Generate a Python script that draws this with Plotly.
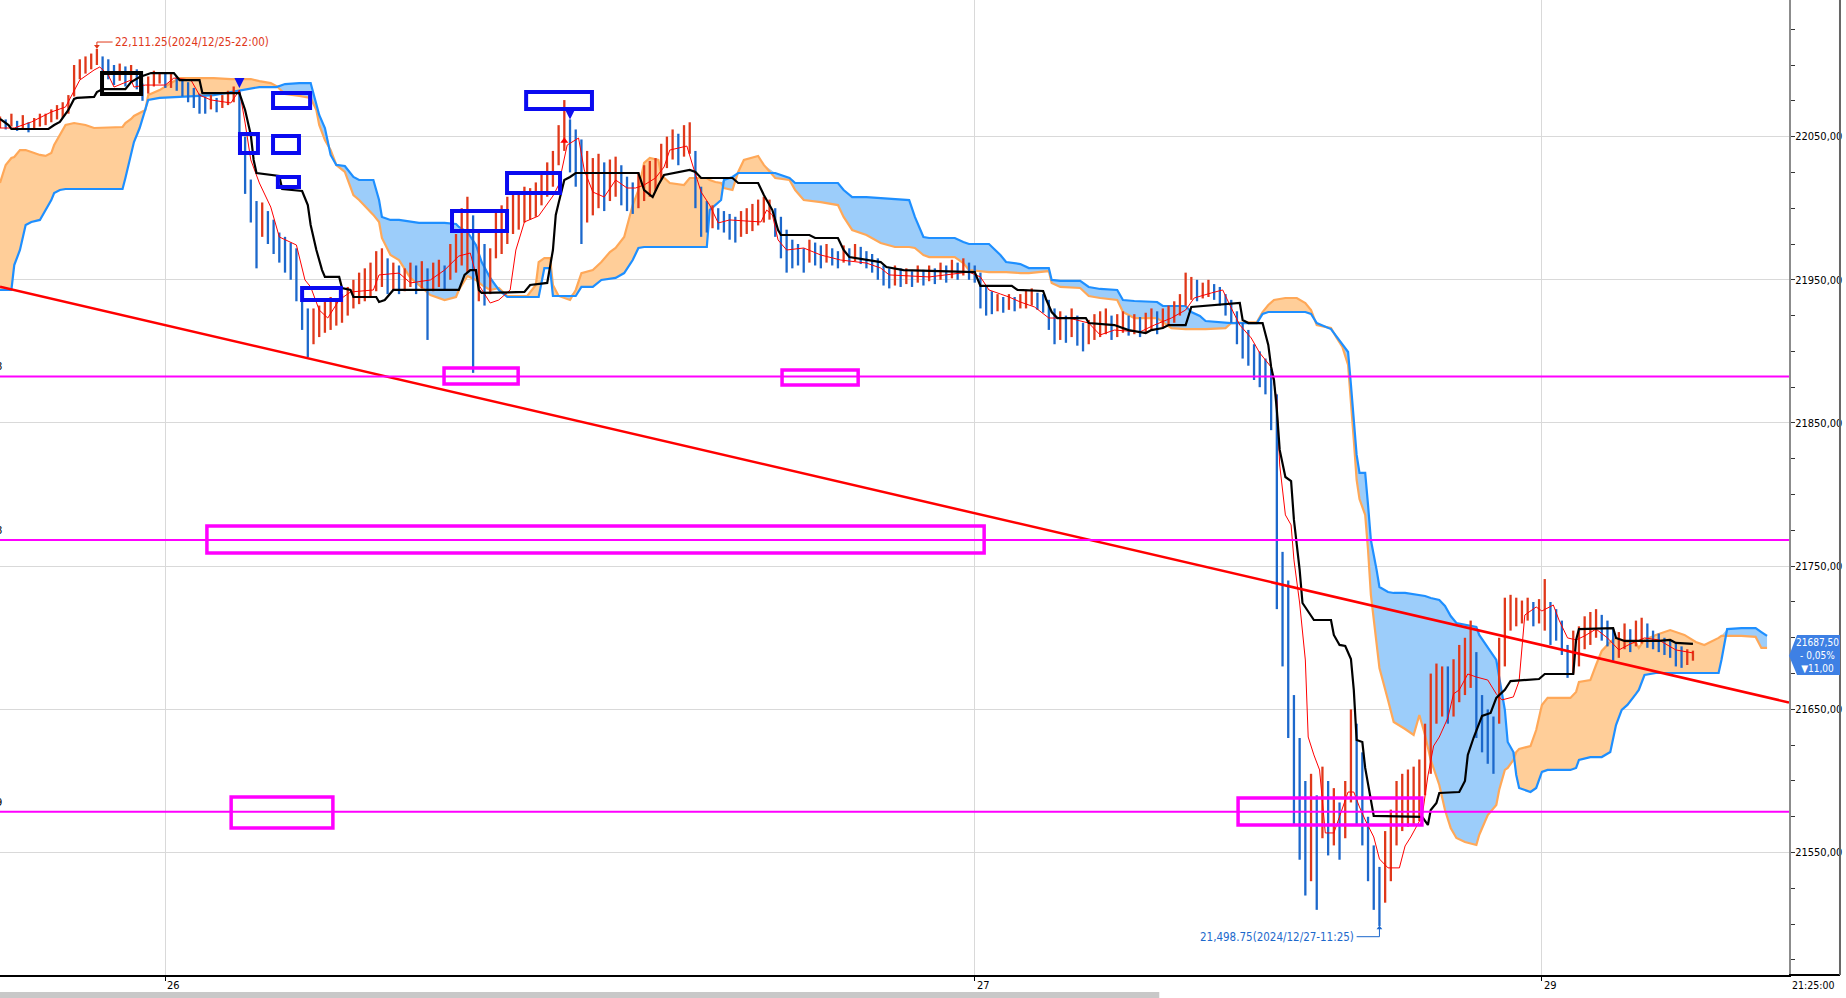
import numpy as np
import plotly.graph_objects as go

FONT = "DejaVu Sans Condensed, Liberation Sans Narrow, Arial Narrow, sans-serif"

# ---------------- axes (time in 5-minute slots, price) ----------------
day_tick_slots = [58, 342, 541]
day_tick_labels = ["26", "27", "29"]
x_end_slot = 627.7
y_min, y_max = 21464.5, 22145.4

# ---------------- price bars (10-minute bars, every 2 slots) ----------------
bar_low = [
    22056, 22055, 22057, 22054, 22056, 22053, 22055, 22057, 22058, 22060,
    22062, 22063, 22066, 22078, 22090, 22094, 22097, 22100, 22093, 22090,
    22086, 22089, 22085, 22088, 22083, 22075, 22080, 22085, 22087, 22084,
    22084, 22082, 22078, 22074, 22070, 22066, 22066, 22069, 22067, 22070,
    22072, 22074, 22045, 22010, 21990, 21958, 21980, 21975, 21968, 21962,
    21955, 21950, 21935, 21915, 21896, 21905, 21910, 21913, 21915, 21918,
    21920, 21925, 21930, 21933, 21935, 21938, 21942, 21945, 21940, 21943,
    21940, 21942, 21945, 21940, 21944, 21908, 21942, 21945, 21943, 21950,
    21955, 21960, 21955, 21885, 21935, 21932, 21940, 21965, 21968, 21975,
    21982, 21985, 21990, 21992, 21994, 22002, 22008, 22015, 22030, 22040,
    22025, 22015, 21975, 21990, 21995, 22000, 21998, 22005, 22008, 22002,
    21998, 21996, 22000, 22005, 22008, 22012, 22020, 22028, 22034, 22030,
    22036, 22038, 22000, 21980, 21983, 21986, 21985, 21983, 21978, 21976,
    21980, 21982, 21984, 21988, 21990, 21992, 21980, 21965, 21955, 21958,
    21960, 21955, 21962, 21960, 21958, 21962, 21960, 21958, 21962, 21960,
    21963, 21961, 21958, 21955, 21950, 21946, 21944, 21946, 21945, 21947,
    21945, 21948, 21946, 21949, 21947, 21950, 21948, 21951, 21950, 21953,
    21950, 21948, 21930, 21925, 21926, 21928, 21927, 21929, 21928, 21930,
    21930, 21932, 21929, 21927, 21915, 21905, 21908, 21906, 21910, 21904,
    21900, 21905, 21908, 21910, 21912, 21908, 21910, 21913, 21911, 21912,
    21910, 21913, 21915, 21912, 21916, 21918, 21920, 21925, 21932, 21936,
    21935, 21937, 21938, 21936, 21932, 21925, 21920, 21905, 21895, 21890,
    21880, 21875, 21870, 21845, 21720, 21680, 21630, 21570, 21545, 21520,
    21530, 21510, 21560, 21548, 21555, 21545, 21560, 21585, 21570, 21555,
    21530, 21510, 21498.75, 21515, 21530, 21555, 21565, 21568, 21570, 21572,
    21590, 21605, 21640, 21645, 21640, 21645, 21655, 21660, 21665, 21630,
    21620, 21612, 21605, 21640, 21680, 21705, 21708, 21710, 21712, 21708,
    21710, 21705, 21695, 21698, 21688, 21672, 21675, 21680, 21692, 21695,
    21700, 21698, 21694, 21684, 21686, 21692, 21690, 21694, 21696, 21693,
    21692, 21690, 21688, 21686, 21680, 21679, 21681, 21684,
]
bar_high = [
    22064, 22062, 22066, 22061, 22065, 22060, 22063, 22066, 22066, 22069,
    22072, 22074, 22079, 22100, 22104, 22106, 22108, 22111.25, 22106, 22104,
    22100, 22101, 22099, 22100, 22097, 22087, 22092, 22096, 22095, 22094,
    22094, 22092, 22090, 22088, 22084, 22080, 22078, 22079, 22077, 22079,
    22082, 22085, 22082, 22050, 22020, 22005, 22004, 21998, 21992, 21983,
    21980, 21976, 21972, 21940, 21930, 21930, 21932, 21935, 21938, 21937,
    21940, 21945, 21950, 21955, 21958, 21962, 21970, 21972, 21965, 21962,
    21960, 21958, 21962, 21960, 21963, 21958, 21962, 21964, 21960, 21975,
    21982, 22000, 22008, 21995, 21985, 21975, 21972, 21998, 22002, 22008,
    22010, 22012, 22015, 22014, 22018, 22025, 22032, 22040, 22058, 22075.5,
    22062, 22055, 22048, 22040, 22035, 22038, 22032, 22034, 22036, 22030,
    22022, 22018, 22025, 22030, 22033, 22035, 22045, 22050, 22055, 22052,
    22058, 22060, 22040, 22015, 22005, 22002, 22000, 21998, 21996, 21994,
    21998, 22000, 22003, 22006, 22008, 22006, 22000, 21994, 21985, 21978,
    21975, 21972, 21978, 21976, 21974, 21975, 21972, 21970, 21974, 21972,
    21975, 21973, 21970, 21968, 21965, 21960, 21958, 21960, 21958, 21958,
    21956, 21960, 21957, 21960, 21958, 21962, 21960, 21964, 21962, 21965,
    21962, 21960, 21955, 21945, 21942, 21940, 21938, 21940, 21938, 21940,
    21943, 21944, 21941, 21940, 21936, 21930, 21928, 21925, 21930, 21925,
    21920, 21922, 21926, 21928, 21930, 21925, 21926, 21928, 21925, 21926,
    21924, 21927, 21930, 21928, 21930, 21932, 21935, 21940, 21955, 21952,
    21950, 21948, 21950, 21947, 21945, 21940, 21936, 21928, 21920, 21915,
    21905, 21900, 21895, 21888, 21870, 21760, 21740, 21660, 21630, 21600,
    21605, 21590, 21610, 21600, 21595, 21585, 21600, 21650, 21640, 21620,
    21575, 21555, 21540, 21565, 21580, 21600, 21605, 21608, 21610, 21615,
    21640, 21675, 21682, 21680, 21680, 21685, 21695, 21700, 21712, 21690,
    21660, 21650, 21645, 21700, 21728, 21730, 21728, 21726, 21728, 21725,
    21727, 21741, 21725, 21720, 21712, 21695, 21705, 21708, 21715, 21718,
    21720, 21716, 21712, 21706, 21704, 21710, 21706, 21712, 21714, 21710,
    21705, 21703, 21700, 21698, 21696, 21694, 21692, 21691,
]
assert len(bar_low) == len(bar_high)
bar_slots = [2 * k for k in range(len(bar_low))]

# ---------------- Ichimoku lines ----------------
tenkan_slots = [0, 5, 11, 18, 23, 26, 28, 33, 35, 38, 40, 46, 47, 51, 58, 61, 67, 70, 74, 81,
                84, 86, 88, 91, 95, 98, 104, 107, 109, 112, 115, 119, 123, 131, 133, 140, 144, 151, 156, 161,
                165, 168, 172, 175, 179, 181, 184, 189, 194, 196, 199, 203, 205, 208, 212, 216, 220, 223, 226, 230,
                233, 235, 241, 243, 246, 249, 252, 256, 267, 269, 271, 273, 276, 282, 288, 295, 304, 309, 312, 326,
                332, 340, 344, 347, 351, 354, 358, 363, 368, 375, 382, 386, 391, 400, 405, 411, 416, 419, 425, 429,
                432, 435, 439, 442, 446, 448, 449, 451, 453, 454, 456, 458, 459, 461, 463, 465, 468, 470, 473, 475,
                477, 479, 482, 484, 487, 491, 493, 495, 499, 501, 503, 505, 508, 510, 512, 515, 518, 522, 525, 527,
                531, 533, 535, 539, 541, 545, 547, 550, 553, 556, 560, 564, 568, 572, 577, 582, 588, 594]
tenkan_vals = [22056.0, 22056.0, 22060.2, 22067.2, 22070.7, 22082.5, 22089.5, 22096.5, 22098.6, 22093.0,
               22084.6, 22089.5, 22084.6, 22086.0, 22086.0, 22090.9, 22089.5, 22079.0, 22075.6, 22073.5,
               22082.5, 22059.5, 22033.7, 22017.6, 22000.8, 21979.9, 21974.3, 21949.9, 21945.0, 21928.9,
               21923.3, 21935.9, 21941.5, 21942.9, 21953.4, 21954.7, 21947.8, 21949.9, 21956.8, 21966.6,
               21968.7, 21946.4, 21933.8, 21935.9, 21942.9, 21970.8, 21990.4, 21994.6, 22008.5, 22016.2,
               22044.1, 22049.0, 22026.7, 22011.3, 22007.8, 22019.7, 22014.1, 22014.1, 22016.2, 22021.1,
               22028.8, 22040.6, 22043.4, 22030.2, 22011.3, 22002.2, 21989.7, 21991.8, 21990.4, 21998.7,
               21995.3, 21977.8, 21970.8, 21972.2, 21967.3, 21963.8, 21961.7, 21958.2, 21953.4, 21952.0,
               21953.4, 21955.4, 21952.0, 21942.9, 21940.1, 21938.0, 21934.5, 21931.0, 21923.3, 21923.3,
               21919.8, 21911.5, 21914.9, 21913.6, 21918.4, 21923.3, 21928.9, 21937.3, 21940.8, 21942.9,
               21930.3, 21918.4, 21909.4, 21898.9, 21889.1, 21866.1, 21820.7, 21785.8, 21778.8, 21754.4,
               21724.3, 21684.5, 21630.7, 21618.2, 21607.7, 21563.7, 21563.7, 21575.5, 21592.3, 21592.3,
               21581.8, 21572.8, 21560.9, 21545.5, 21539.3, 21539.3, 21554.6, 21560.9, 21575.5, 21603.5,
               21624.4, 21630.7, 21644.0, 21660.8, 21663.6, 21674.7, 21672.6, 21670.5, 21660.8, 21656.6,
               21658.7, 21669.8, 21715.9, 21721.5, 21718.7, 21722.9, 21712.4, 21699.9, 21698.5, 21701.3,
               21706.1, 21699.9, 21691.5, 21695.7, 21699.9, 21698.5, 21691.5, 21689.4]

kijun_slots = [0, 3, 4, 17, 19, 21, 24, 26, 27, 33, 34, 36, 44, 46, 49, 53, 61, 63, 70, 71,
               84, 86, 88, 89, 90, 98, 99, 106, 108, 109, 111, 113, 114, 119, 120, 123, 124, 132, 133, 135,
               138, 161, 163, 165, 167, 168, 169, 184, 186, 192, 194, 195, 196, 198, 200, 202, 224, 226, 229, 231,
               233, 242, 244, 246, 257, 259, 266, 268, 271, 273, 274, 284, 286, 294, 296, 298, 309, 311, 317, 342,
               344, 355, 357, 366, 367, 369, 371, 381, 382, 391, 396, 402, 404, 408, 410, 416, 418, 428, 435, 436,
               438, 443, 445, 446, 447, 448, 449, 451, 453, 454, 455, 456, 457, 459, 461, 467, 468, 470, 472, 474,
               475, 476, 478, 479, 481, 482, 499, 501, 502, 504, 505, 512, 514, 515, 517, 518, 520, 523, 525, 528,
               530, 540, 542, 552, 553, 554, 566, 567, 570, 582, 586, 588, 594]
kijun_vals = [22062.3, 22058.1, 22055.3, 22055.3, 22058.1, 22060.2, 22068.6, 22076.3, 22077.0, 22077.7,
              22081.1, 22083.2, 22083.2, 22088.1, 22091.6, 22094.4, 22094.4, 22089.5, 22089.5, 22080.4,
              22080.4, 22068.6, 22051.1, 22033.7, 22024.6, 22022.5, 22013.4, 22012.0, 22002.2, 21988.3,
              21970.8, 21956.8, 21952.0, 21952.0, 21944.3, 21942.9, 21938.0, 21938.0, 21934.5, 21935.9,
              21942.9, 21942.9, 21953.4, 21956.8, 21956.8, 21942.9, 21940.8, 21941.5, 21946.4, 21947.8,
              21970.8, 21995.3, 22003.6, 22019.7, 22021.8, 22024.6, 22024.6, 22012.7, 22007.8, 22016.2,
              22023.2, 22026.7, 22025.3, 22021.1, 22021.1, 22017.6, 22017.6, 22009.2, 21998.7, 21984.8,
              21981.3, 21981.3, 21979.2, 21979.2, 21970.8, 21965.9, 21962.4, 21958.9, 21956.8, 21955.4,
              21945.7, 21945.7, 21942.9, 21942.2, 21936.6, 21927.5, 21923.3, 21923.3, 21919.8, 21918.4,
              21914.9, 21912.8, 21914.9, 21916.3, 21918.4, 21918.4, 21931.0, 21932.4, 21933.8, 21921.9,
              21919.8, 21919.8, 21904.5, 21889.1, 21880.0, 21859.1, 21831.2, 21812.3, 21809.5, 21782.3,
              21764.8, 21747.4, 21724.3, 21718.0, 21712.4, 21712.4, 21702.0, 21695.0, 21694.3, 21685.2,
              21663.6, 21628.6, 21627.2, 21609.1, 21586.7, 21575.6, 21574.9, 21569.3, 21579.7, 21584.6,
              21591.6, 21592.3, 21600.0, 21618.2, 21630.0, 21635.6, 21645.4, 21647.5, 21658.0, 21663.6,
              21669.8, 21671.2, 21674.7, 21674.7, 21698.5, 21706.1, 21706.8, 21699.9, 21697.8, 21697.8,
              21698.5, 21696.4, 21695.7]

cloud_slots = [0, 2, 4, 5, 7, 9, 11, 14, 16, 18, 19, 21, 23, 26, 30, 33, 39, 43, 44, 46,
               47, 49, 51, 52, 56, 60, 63, 70, 75, 81, 88, 91, 95, 97, 100, 105, 109, 111, 112, 114,
               116, 118, 121, 124, 126, 131, 133, 134, 137, 140, 144, 147, 151, 156, 160, 161, 164, 167, 169, 172,
               175, 178, 185, 188, 189, 191, 193, 194, 196, 200, 202, 204, 208, 211, 214, 216, 219, 222, 224, 226,
               228, 231, 232, 235, 240, 242, 248, 249, 251, 253, 254, 257, 259, 261, 266, 268, 272, 277, 279, 282,
               288, 294, 296, 299, 304, 309, 314, 319, 321, 324, 326, 335, 338, 340, 347, 351, 353, 358, 361, 368,
               369, 372, 379, 382, 386, 392, 394, 398, 406, 408, 411, 416, 418, 421, 423, 430, 432, 441, 443, 445,
               447, 451, 455, 458, 460, 462, 467, 469, 471, 473, 474, 475, 476, 477, 479, 480, 481, 483, 484, 487,
               489, 493, 496, 498, 500, 502, 505, 507, 509, 511, 514, 518, 519, 522, 525, 526, 528, 529, 531, 532,
               533, 537, 539, 541, 543, 551, 553, 554, 558, 560, 562, 565, 567, 569, 571, 574, 575, 577, 581, 586,
               591, 595, 598, 603, 604, 606, 611, 616, 618, 620]
span_a = [22017.6, 22030.2, 22035.1, 22035.8, 22040.6, 22040.6, 22039.2, 22037.2, 22036.5, 22038.5,
          22044.1, 22051.1, 22058.1, 22059.5, 22058.1, 22056.0, 22056.7, 22056.7, 22059.5, 22062.3,
          22064.4, 22066.5, 22068.6, 22079.0, 22082.5, 22087.4, 22090.9, 22090.9, 22090.9, 22090.2,
          22090.2, 22088.8, 22087.4, 22085.3, 22079.7, 22078.4, 22077.0, 22068.6, 22058.1, 22047.6,
          22040.6, 22030.2, 22025.3, 22009.2, 22005.7, 21995.3, 21990.4, 21979.2, 21967.3, 21963.8,
          21951.3, 21946.4, 21939.4, 21935.9, 21938.0, 21942.9, 21952.7, 21949.9, 21946.4, 21942.9,
          21944.3, 21938.7, 21938.7, 21946.4, 21962.4, 21965.2, 21965.2, 21946.4, 21938.7, 21935.9,
          21942.9, 21954.7, 21956.8, 21962.4, 21969.4, 21972.2, 21979.9, 22002.2, 22012.7, 22031.6,
          22035.1, 22033.7, 22023.2, 22017.6, 22016.2, 22021.1, 22021.1, 22019.7, 22018.3, 22017.6,
          22014.1, 22012.7, 22025.3, 22033.7, 22036.5, 22030.2, 22021.1, 22019.7, 22012.7, 22005.7,
          22004.3, 22002.2, 21993.9, 21984.8, 21981.3, 21975.7, 21972.9, 21972.9, 21972.2, 21967.3,
          21965.9, 21965.9, 21961.7, 21956.8, 21955.4, 21955.4, 21955.4, 21954.7, 21954.7, 21956.1,
          21947.8, 21945.0, 21944.3, 21938.7, 21937.3, 21935.9, 21927.5, 21923.3, 21923.3, 21920.5,
          21916.3, 21915.6, 21915.6, 21915.6, 21915.6, 21916.3, 21919.8, 21920.5, 21927.5, 21932.4,
          21935.9, 21937.3, 21937.3, 21933.8, 21928.9, 21918.4, 21916.3, 21909.4, 21903.1, 21890.5,
          21866.1, 21838.2, 21810.2, 21796.9, 21785.8, 21761.3, 21729.9, 21698.5, 21678.9, 21656.6,
          21641.2, 21636.3, 21632.1, 21646.1, 21632.1, 21614.7, 21597.2, 21579.7, 21567.2, 21560.2,
          21557.4, 21555.3, 21562.3, 21576.2, 21583.2, 21593.7, 21607.7, 21609.1, 21614.7, 21620.2,
          21622.3, 21624.4, 21635.6, 21653.1, 21658.0, 21658.0, 21662.2, 21669.1, 21670.5, 21681.0,
          21690.8, 21697.1, 21699.9, 21698.5, 21697.1, 21696.4, 21692.9, 21698.5, 21702.0, 21705.4,
          21702.0, 21697.1, 21695.0, 21699.9, 21701.3, 21701.3, 21701.3, 21700.6, 21692.9, 21692.9]
span_b = [21942.9, 21942.9, 21942.9, 21960.3, 21970.8, 21988.3, 21990.4, 21991.8, 21998.7, 22005.7,
          22010.6, 22012.7, 22013.4, 22013.4, 22013.4, 22013.4, 22013.4, 22013.4, 22021.1, 22037.2,
          22046.2, 22056.0, 22068.6, 22075.6, 22077.0, 22077.7, 22077.7, 22078.4, 22079.0, 22081.1,
          22083.9, 22084.6, 22084.6, 22084.6, 22086.7, 22087.4, 22087.4, 22073.5, 22065.1, 22056.0,
          22037.2, 22030.2, 22029.5, 22021.8, 22019.7, 22019.7, 22005.7, 21993.9, 21991.8, 21991.8,
          21990.4, 21989.7, 21989.7, 21989.7, 21989.0, 21986.9, 21983.4, 21974.3, 21962.4, 21951.3,
          21942.9, 21938.0, 21938.0, 21938.0, 21938.0, 21958.2, 21958.2, 21938.7, 21938.7, 21938.7,
          21938.7, 21945.0, 21945.0, 21949.9, 21950.6, 21951.3, 21954.7, 21963.8, 21972.2, 21972.9,
          21972.9, 21972.9, 21972.9, 21972.9, 21972.9, 21972.9, 21972.9, 21998.7, 22002.2, 22005.7,
          22019.7, 22021.8, 22024.6, 22024.6, 22024.6, 22024.6, 22024.6, 22021.1, 22017.6, 22017.6,
          22017.6, 22017.6, 22012.7, 22007.8, 22007.8, 22007.1, 22006.4, 22005.7, 21993.9, 21979.9,
          21979.2, 21979.2, 21976.4, 21975.0, 21975.0, 21967.3, 21962.4, 21961.0, 21958.2, 21958.2,
          21949.9, 21949.2, 21949.2, 21945.0, 21943.6, 21942.9, 21935.9, 21935.2, 21934.5, 21931.7,
          21931.7, 21931.7, 21927.5, 21924.7, 21921.2, 21920.5, 21919.8, 21919.8, 21926.1, 21927.5,
          21927.5, 21927.5, 21927.5, 21927.5, 21926.1, 21919.8, 21915.6, 21910.0, 21904.5, 21899.6,
          21876.6, 21852.2, 21827.7, 21815.1, 21815.1, 21792.7, 21768.3, 21747.4, 21735.5, 21732.0,
          21731.3, 21731.3, 21730.6, 21729.9, 21729.2, 21727.8, 21726.4, 21722.2, 21715.2, 21710.3,
          21708.9, 21707.5, 21702.0, 21692.9, 21684.5, 21672.6, 21649.6, 21627.2, 21620.2, 21604.2,
          21595.1, 21592.3, 21595.1, 21606.3, 21607.7, 21607.7, 21609.1, 21614.7, 21616.7, 21616.7,
          21616.7, 21620.2, 21639.1, 21649.6, 21653.1, 21660.8, 21663.6, 21674.0, 21675.4, 21675.4,
          21675.4, 21675.4, 21675.4, 21675.4, 21684.5, 21706.1, 21706.8, 21706.8, 21704.0, 21701.3]
assert len(cloud_slots) == len(span_a) == len(span_b)
assert len(tenkan_slots) == len(tenkan_vals)
assert len(kijun_slots) == len(kijun_vals)

# ---------------- drawn objects ----------------
trend_slots = [0, 627.7]
trend_vals = [21945.2, 21654.8]
level_lines = [21882.5, 21768.25, 21578.5]
level_labels = ["8", "8", "9"]

# boxes: (slot0, slot1, price_low, price_high)
blue_boxes = [(95.8, 108.8, 22070.0, 22080.4), (84.2, 90.5, 22038.5, 22051.8),
              (95.8, 104.9, 22038.5, 22050.4), (97.5, 104.9, 22014.8, 22021.8),
              (106.0, 119.6, 21935.9, 21944.3), (158.6, 177.9, 21984.1, 21998.0),
              (177.9, 196.5, 22010.6, 22024.6), (184.6, 207.7, 22069.3, 22081.1)]
black_boxes = [(35.8, 49.5, 22079.7, 22094.4)]
magenta_boxes = [(155.8, 181.8, 21877.2, 21888.4), (274.4, 301.1, 21876.6, 21887.0),
                 (72.6, 345.3, 21759.2, 21778.1), (81.1, 116.8, 21567.2, 21588.8),
                 (434.4, 498.9, 21569.3, 21588.1)]

sell_marks_slots = [84, 200]
sell_marks_vals = [22084, 22062]
buy_marks_slots = [198]
buy_marks_vals = [22047]

high_slot, high_val = 34, 22111.25
high_text = "22,111.25(2024/12/25-22:00)"
low_slot, low_val = 484, 21498.75
low_text = "21,498.75(2024/12/27-11:25)"
last_price = 21687.5
last_label = "21687,50<br>- 0,05%<br>▼11,00"
time_label = "21:25:00"

# ---------------- colours ----------------
UP = "#E0381A"
DOWN = "#1C68CC"
ORANGE_LINE = "#FFA858"
ORANGE_FILL = "#FFCE99"
BLUE_LINE = "#1E8FFF"
BLUE_FILL = "#9CCDFA"
MAGENTA = "#FF00FF"

fig = go.Figure()

# cloud fills
a = np.array(span_a)
b = np.array(span_b)
top = np.maximum(a, b)
fig.add_trace(go.Scatter(x=cloud_slots, y=b, mode="lines", line=dict(width=0), hoverinfo="skip"))
fig.add_trace(go.Scatter(x=cloud_slots, y=top, mode="lines", line=dict(width=0), fill="tonexty",
                         fillcolor=ORANGE_FILL, hoverinfo="skip"))
fig.add_trace(go.Scatter(x=cloud_slots, y=a, mode="lines", line=dict(width=0), hoverinfo="skip"))
fig.add_trace(go.Scatter(x=cloud_slots, y=top, mode="lines", line=dict(width=0), fill="tonexty",
                         fillcolor=BLUE_FILL, hoverinfo="skip"))
fig.add_trace(go.Scatter(x=cloud_slots, y=span_a, mode="lines", line=dict(color=ORANGE_LINE, width=2.2)))
fig.add_trace(go.Scatter(x=cloud_slots, y=span_b, mode="lines", line=dict(color=BLUE_LINE, width=2.2)))

# price bars
ux, uy, dx, dy = [], [], [], []
prev_mid = None
for s, lo, hi in zip(bar_slots, bar_low, bar_high):
    mid = (lo + hi) / 2
    if prev_mid is None or mid >= prev_mid:
        ux += [s, s, None]; uy += [lo, hi, None]
    else:
        dx += [s, s, None]; dy += [lo, hi, None]
    prev_mid = mid
fig.add_trace(go.Scatter(x=ux, y=uy, mode="lines", line=dict(color=UP, width=2.3), hoverinfo="skip"))
fig.add_trace(go.Scatter(x=dx, y=dy, mode="lines", line=dict(color=DOWN, width=2.3), hoverinfo="skip"))

# conversion / base lines
fig.add_trace(go.Scatter(x=tenkan_slots, y=tenkan_vals, mode="lines", line=dict(color="#FF0000", width=1)))
fig.add_trace(go.Scatter(x=kijun_slots, y=kijun_vals, mode="lines", line=dict(color="black", width=2.2)))

# trend line
fig.add_trace(go.Scatter(x=trend_slots, y=trend_vals, mode="lines", line=dict(color="#FF0000", width=2.5)))

# signal markers
fig.add_trace(go.Scatter(x=sell_marks_slots, y=sell_marks_vals, mode="markers",
                         marker=dict(symbol="arrow-down", size=10, color="#1010F0")))
fig.add_trace(go.Scatter(x=buy_marks_slots, y=buy_marks_vals, mode="markers",
                         marker=dict(symbol="triangle-up", size=7, color="#FF0000")))

shapes = []
for lv in level_lines:
    shapes.append(dict(type="line", xref="paper", x0=0, x1=1, yref="y", y0=lv, y1=lv,
                       line=dict(color=MAGENTA, width=2)))
for (x0, x1, y0, y1) in magenta_boxes:
    shapes.append(dict(type="rect", xref="x", yref="y", x0=x0, x1=x1, y0=y0, y1=y1,
                       line=dict(color=MAGENTA, width=3.5)))
for (x0, x1, y0, y1) in blue_boxes:
    shapes.append(dict(type="rect", xref="x", yref="y", x0=x0, x1=x1, y0=y0, y1=y1,
                       line=dict(color="#0A0AF0", width=4)))
for (x0, x1, y0, y1) in black_boxes:
    shapes.append(dict(type="rect", xref="x", yref="y", x0=x0, x1=x1, y0=y0, y1=y1,
                       line=dict(color="black", width=4)))

# high / low pointers
shapes.append(dict(type="line", xref="x", yref="y", x0=high_slot, x1=high_slot + 5.5,
                   y0=high_val + 4.8, y1=high_val + 4.8, line=dict(color=UP, width=1)))
shapes.append(dict(type="line", xref="x", yref="y", x0=high_slot, x1=high_slot,
                   y0=high_val + 1, y1=high_val + 4.8, line=dict(color=UP, width=1)))
shapes.append(dict(type="line", xref="x", yref="y", x0=low_slot - 8, x1=low_slot,
                   y0=low_val - 7.5, y1=low_val - 7.5, line=dict(color=DOWN, width=1)))
shapes.append(dict(type="line", xref="x", yref="y", x0=low_slot, x1=low_slot,
                   y0=low_val - 7.5, y1=low_val - 1, line=dict(color=DOWN, width=1)))
fig.add_trace(go.Scatter(x=[high_slot], y=[high_val + 1.8], mode="markers",
                         marker=dict(symbol="triangle-down", size=5, color=UP)))
fig.add_trace(go.Scatter(x=[low_slot], y=[low_val - 1.5], mode="markers",
                         marker=dict(symbol="triangle-up", size=5, color=DOWN)))

# axis frame extras
shapes.append(dict(type="line", xref="paper", yref="paper", x0=1, x1=1.0285, y0=0, y1=0,
                   line=dict(color="black", width=2)))
shapes.append(dict(type="line", xref="paper", yref="paper", x0=1.0285, x1=1.0285, y0=0, y1=1,
                   line=dict(color="#666666", width=2)))
shapes.append(dict(type="rect", xref="paper", yref="paper", x0=0, x1=0.648, y0=-0.0236, y1=-0.0175,
                   line=dict(width=0), fillcolor="#C8C8C8"))
# last price tag
shapes.append(dict(type="path", xref="paper", yref="y",
                   path=f"M 1.0 {last_price} L 1.0045 {last_price + 14.5} L 1.0285 {last_price + 14.5} "
                        f"L 1.0285 {last_price - 13.5} L 1.0045 {last_price - 13.5} Z",
                   fillcolor="#3E80E4", line=dict(width=0)))

annotations = []
for s, lab in zip(day_tick_slots, day_tick_labels):
    annotations.append(dict(x=s, xref="x", y=0, yref="paper", text=lab, showarrow=False,
                            xanchor="left", yanchor="top", xshift=0, yshift=-2,
                            font=dict(family=FONT, size=11, color="black")))
annotations.append(dict(x=1, xref="paper", y=0, yref="paper", text=time_label, showarrow=False,
                        xanchor="left", yanchor="top", xshift=1, yshift=-2,
                        font=dict(family=FONT, size=10.5, color="black")))
annotations.append(dict(x=1, xref="paper", y=last_price, yref="y", text=last_label, showarrow=False,
                        xanchor="left", yanchor="middle", xshift=5, align="center",
                        font=dict(family=FONT, size=10, color="white")))
annotations.append(dict(x=high_slot + 5.6, xref="x", y=high_val + 4.8, yref="y", text=high_text,
                        showarrow=False, xanchor="left", yanchor="middle",
                        font=dict(family=FONT, size=11.5, color=UP)))
annotations.append(dict(x=low_slot - 8.2, xref="x", y=low_val - 7.5, yref="y", text=low_text,
                        showarrow=False, xanchor="right", yanchor="middle",
                        font=dict(family=FONT, size=11.5, color=DOWN)))
for lv, lab in zip(level_lines, level_labels):
    annotations.append(dict(x=0, xref="paper", y=lv, yref="y", text=lab, showarrow=False,
                            xanchor="right", yanchor="bottom", xshift=4, yshift=1,
                            font=dict(family=FONT, size=11, color="black")))

fig.update_layout(
    width=1846, height=998,
    margin=dict(l=0, r=57, t=0, b=23, autoexpand=False),
    paper_bgcolor="white", plot_bgcolor="white",
    showlegend=False,
    separators=",.",
    shapes=shapes,
    annotations=annotations,
    xaxis=dict(range=[0, x_end_slot], tickmode="array", tickvals=day_tick_slots,
               ticktext=["", "", ""], showgrid=True, gridcolor="#D9D9D9", gridwidth=1,
               zeroline=False, showline=True, linecolor="black", linewidth=2,
               ticks="outside", ticklen=4, tickcolor="black", automargin=False),
    yaxis=dict(side="right", range=[y_min, y_max], tickmode="linear", tick0=21550, dtick=100,
               tickformat=".2f", showgrid=True, gridcolor="#D9D9D9", gridwidth=1,
               zeroline=False, showline=True, linecolor="#8C8C8C", linewidth=2,
               ticks="outside", ticklen=4, tickcolor="#333333", automargin=False,
               ticklabelstandoff=-2,
               tickfont=dict(family=FONT, size=11, color="black"),
               minor=dict(tick0=21550, dtick=25, ticks="outside", ticklen=4,
                          tickcolor="#333333", showgrid=False)),
)

fig.write_html("out.html", config={"displayModeBar": False},
               post_script="document.body.style.margin='0px';document.body.style.overflow='hidden';")
